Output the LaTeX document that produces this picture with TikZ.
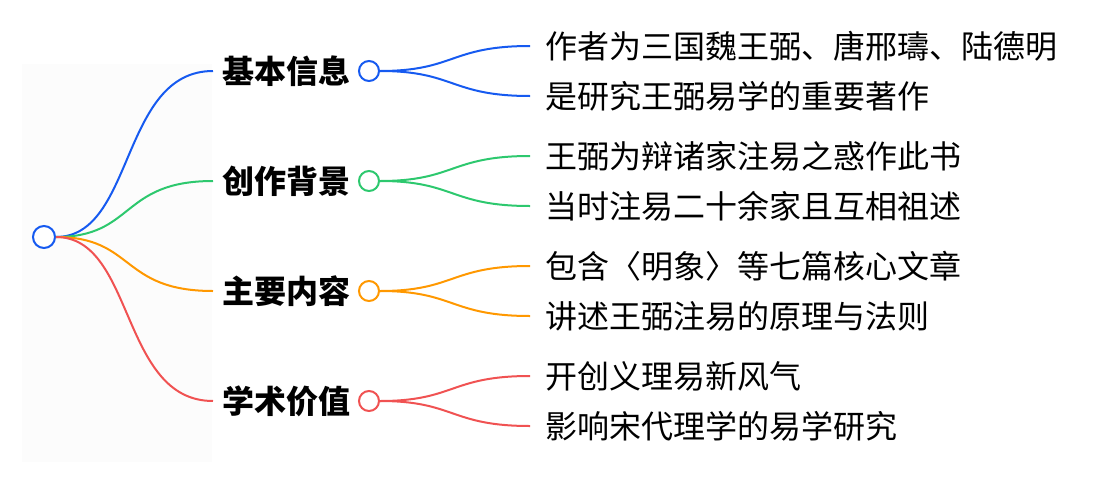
\documentclass[tikz,border=0pt]{standalone}
\usepackage{fontspec}
\newfontfamily\cjk{Noto Sans CJK SC}
\definecolor{cb}{RGB}{22,90,240}
\definecolor{cg}{RGB}{45,200,110}
\definecolor{co}{RGB}{255,152,0}
\definecolor{cr}{RGB}{240,82,82}
\begin{document}
\begin{tikzpicture}[x=1pt,y=-1pt,
  dot/.style={circle,draw,line width=2pt,fill=white,inner sep=0pt,minimum size=#1},
  lab/.style={font=\cjk\bfseries\fontsize{32}{34}\selectfont,anchor=west,inner sep=0pt},
  leaf/.style={font=\cjk\fontsize{32}{34}\selectfont,anchor=west,inner sep=0pt},
  br/.style={line width=2pt}]
\useasboundingbox (0,0) rectangle (1116,482);
\fill[black!1] (22,64) rectangle (212,462);
\node[dot=22pt,draw=cb] (root) at (44,237) {};
\foreach \i/\y/\c/\t/\la/\lb in {
 a/71/cb/基本信息/作者为三国魏王弼、唐邢璹、陆德明/是研究王弼易学的重要著作,
 b/181/cg/创作背景/王弼为辩诸家注易之惑作此书/当时注易二十余家且互相祖述,
 c/291/co/主要内容/包含〈明象〉等七篇核心文章/讲述王弼注易的原理与法则,
 d/401/cr/学术价值/开创义理易新风气/影响宋代理学的易学研究}{
  \coordinate (e\i) at (213,\y);
  \node[lab] (l\i) at (222,\y) {\t};
  \node[dot=20pt,draw=\c] (n\i) at (369,\y) {};
  \coordinate (p\i) at (530,\y-25);
  \coordinate (q\i) at (530,\y+25);
  \node[leaf] (x\i) at (545,\y-25) {\la};
  \node[leaf] (y\i) at (545,\y+25) {\lb};
  \draw[br,\c] (root.east) .. controls (135,237) and (120,\y) .. (e\i);
  \draw[br,\c] (n\i.east) .. controls (455,\y) and (450,\y-25) .. (p\i);
  \draw[br,\c] (n\i.east) .. controls (455,\y) and (450,\y+25) .. (q\i);
}
\end{tikzpicture}
\end{document}
